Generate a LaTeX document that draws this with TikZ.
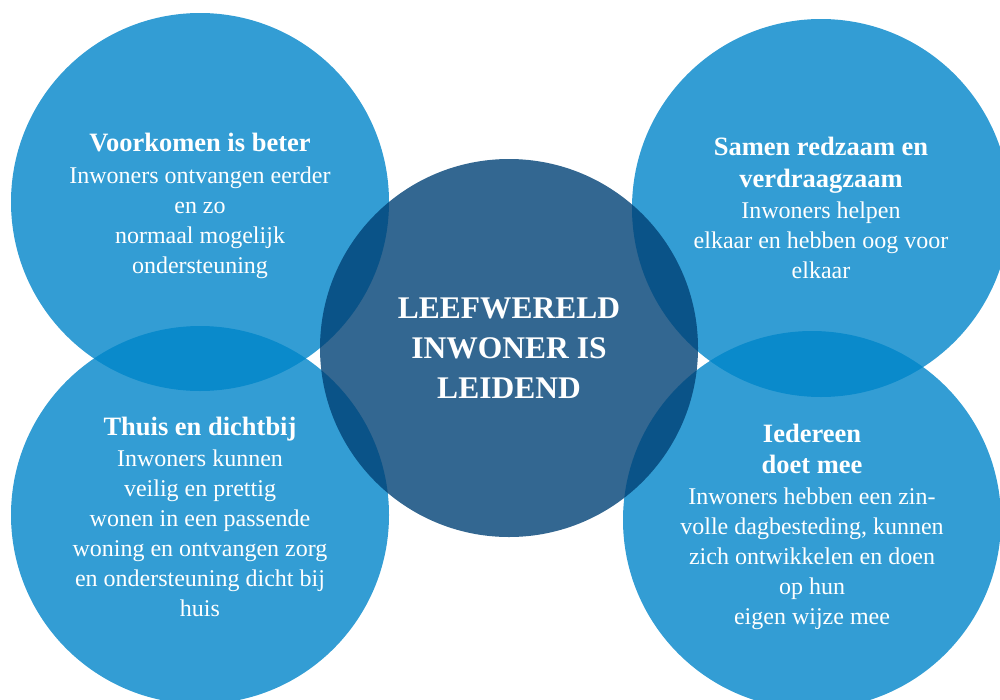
\documentclass[tikz,border=0pt]{standalone}
\usepackage{fontspec}
\setmainfont{Liberation Serif}
\definecolor{bubbleblue}{RGB}{0,133,201}
\definecolor{hubblue}{RGB}{0,65,117}
\tikzset{
  bubble/.style={circle, fill=bubbleblue, fill opacity=0.8, text opacity=1, text=white, minimum size=378pt, inner sep=0pt, align=center, font=\fontsize{24}{30}\selectfont},
  hub/.style={bubble, fill=hubblue, font=\bfseries\fontsize{31.5}{40}\selectfont}
}
\newcommand{\bubtitle}[1]{{\bfseries\fontsize{26.5}{33}\selectfont #1}}
% taller first line pushes the text block down a little
\newcommand{\pushdown}[1]{\rule{0pt}{#1}}

\begin{document}
\begin{tikzpicture}[x=1pt, y=-1pt]
  \clip (0,0) rectangle (1000,699);
  % four themes around the centre
  \node[bubble] (prevent) at (200,202) {\pushdown{26pt}\bubtitle{Voorkomen is beter}\\[2pt]Inwoners ontvangen eerder\\en zo\\normaal mogelijk\\ondersteuning};
  \node[bubble] (together) at (821,208) {\bubtitle{Samen redzaam en}\\[2pt]\bubtitle{verdraagzaam}\\[1pt]Inwoners helpen\\elkaar en hebben oog voor\\elkaar};
  \node[bubble] (home) at (200,515) {\pushdown{23pt}\bubtitle{Thuis en dichtbij}\\[1pt]Inwoners kunnen\\veilig en prettig\\wonen in een passende\\woning en ontvangen zorg\\en ondersteuning dicht bij\\huis};
  \node[bubble] (everyone) at (812,520) {\pushdown{32pt}\bubtitle{Iedereen}\\[1pt]\bubtitle{doet mee}\\[1pt]Inwoners hebben een zin-\\volle dagbesteding, kunnen\\zich ontwikkelen en doen\\op hun\\eigen wijze mee};
  % centre
  \node[hub] (core) at (509,348) {LEEFWERELD\\INWONER IS\\LEIDEND};
\end{tikzpicture}
\end{document}
